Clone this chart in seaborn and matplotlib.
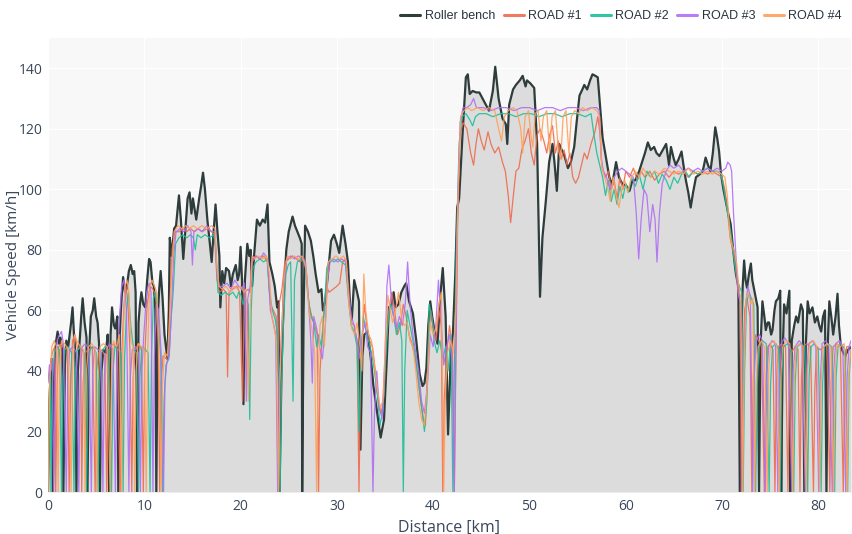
import pandas as pd
import matplotlib
matplotlib.use("Agg")
import matplotlib.pyplot as plt
import seaborn as sns

# speed traces: (distance km, speed km/h)
roller_bench = [
    (0.00, 0), (0.10, 22), (0.25, 38), (0.40, 44), (0.50, 0), (0.65, 40), (0.85, 50), (1.00, 53), (1.15, 49),
    (1.30, 51), (1.50, 46), (1.60, 0), (1.75, 42), (1.90, 50), (2.10, 48), (2.40, 56), (2.55, 61), (2.70, 52),
    (2.85, 46), (2.95, 0), (3.10, 40), (3.25, 48), (3.45, 58), (3.60, 64), (3.80, 56), (4.00, 51), (4.10, 0),
    (4.25, 45), (4.45, 58), (4.65, 60), (4.80, 64), (5.00, 58), (5.15, 56), (5.30, 49), (5.40, 0), (5.55, 40),
    (5.75, 47), (6.00, 46), (6.20, 52), (6.35, 0), (6.50, 52), (6.65, 61), (6.85, 55), (7.00, 54), (7.20, 58),
    (7.30, 0), (7.45, 52), (7.60, 62), (7.80, 71), (8.00, 66), (8.15, 67), (8.40, 73), (8.60, 75), (8.80, 72),
    (8.95, 73), (9.10, 66), (9.25, 0), (9.40, 56), (9.55, 62), (9.70, 66), (9.90, 62), (10.10, 61), (10.30, 70),
    (10.50, 77), (10.65, 76), (10.85, 69), (11.00, 68), (11.15, 60), (11.25, 0), (11.40, 58), (11.55, 67),
    (11.70, 73), (11.90, 64), (12.10, 52), (12.25, 48), (12.40, 44), (12.55, 60), (12.65, 84), (12.85, 78),
    (13.10, 87), (13.30, 88), (13.60, 98), (13.80, 90), (14.05, 77), (14.30, 88), (14.50, 97), (14.70, 99),
    (14.90, 92), (15.05, 97), (15.20, 94), (15.40, 90), (15.70, 97), (15.90, 101), (16.10, 105.5), (16.30, 100),
    (16.55, 90), (16.75, 84), (17.00, 76), (17.20, 86), (17.40, 95), (17.60, 86), (17.80, 78), (17.90, 61),
    (18.10, 73), (18.30, 69), (18.50, 74), (18.80, 73), (19.00, 68), (19.20, 72), (19.50, 75), (19.70, 70),
    (19.85, 72), (20.00, 81), (20.15, 70), (20.30, 29), (20.45, 70), (20.70, 82), (20.90, 78), (21.05, 80),
    (21.20, 68), (21.40, 78), (21.70, 90), (22.00, 88), (22.30, 90), (22.55, 89), (22.80, 95), (23.00, 76),
    (23.30, 72), (23.55, 68), (23.80, 61), (23.95, 63), (24.05, 0), (24.25, 40), (24.50, 66), (24.75, 80),
    (25.00, 86), (25.40, 91), (25.65, 88), (25.90, 86), (26.15, 84), (26.35, 82), (26.40, 0), (26.55, 60),
    (26.70, 88), (27.00, 86), (27.30, 83), (27.55, 78), (27.80, 72), (28.10, 66), (28.40, 67), (28.55, 60),
    (28.80, 63), (29.10, 73), (29.40, 83), (29.70, 85), (30.00, 82), (30.25, 79), (30.60, 88), (30.90, 82),
    (31.15, 76), (31.40, 60), (31.55, 57), (31.80, 70), (32.10, 66), (32.30, 63), (32.45, 14), (32.65, 45),
    (32.85, 52), (33.20, 53), (33.50, 45), (33.80, 35), (34.20, 26), (34.55, 18), (34.90, 24), (35.20, 45),
    (35.40, 61), (35.70, 62), (35.90, 66), (36.10, 61), (36.40, 62), (36.70, 66), (37.00, 68), (37.20, 69),
    (37.50, 63), (37.90, 59), (38.25, 50), (38.60, 39), (38.90, 35), (39.10, 36), (39.30, 41), (39.50, 55),
    (39.70, 63), (39.90, 58), (40.10, 54), (40.45, 49), (40.75, 65), (41.00, 74), (41.30, 58), (41.55, 19),
    (41.85, 47), (42.05, 52), (42.30, 72), (42.50, 94), (42.70, 97), (43.05, 118), (43.40, 137), (43.60, 138),
    (43.80, 131.5), (44.10, 132.5), (44.50, 132), (44.80, 132), (45.30, 129), (45.80, 126), (46.20, 132.5),
    (46.45, 140.5), (46.80, 130), (47.20, 123.5), (47.55, 121.5), (47.70, 115), (47.90, 128), (48.30, 133),
    (48.60, 134.5), (49.00, 136), (49.30, 137.5), (49.60, 134), (49.75, 136), (50.10, 135), (50.50, 133.5),
    (50.80, 115), (51.00, 82), (51.10, 64.5), (51.35, 84), (51.70, 96), (52.05, 109), (52.40, 115), (52.60, 109),
    (52.85, 99.5), (53.10, 115), (53.35, 113), (53.60, 111.5), (54.00, 107), (54.30, 109), (54.65, 114),
    (54.90, 122), (55.20, 131), (55.50, 133), (55.70, 134.5), (56.00, 133), (56.30, 136), (56.55, 138),
    (56.85, 137.5), (57.10, 137), (57.30, 129), (57.60, 117), (57.95, 110.5), (58.30, 104), (58.60, 101.5),
    (59.00, 109), (59.30, 104), (59.70, 101.5), (60.00, 101.5), (60.40, 99.5), (60.70, 103), (61.00, 103),
    (61.40, 106), (61.75, 109.5), (62.00, 112), (62.30, 115.5), (62.60, 113), (62.95, 114), (63.20, 112),
    (63.50, 111), (63.85, 113), (64.20, 115), (64.50, 108), (64.70, 114), (65.00, 110), (65.20, 108),
    (65.50, 110), (65.80, 112.5), (66.00, 108), (66.25, 103), (66.50, 99), (66.75, 94), (67.00, 99),
    (67.30, 104), (67.70, 105), (68.00, 106), (68.30, 110.5), (68.55, 108), (68.80, 106), (69.05, 112),
    (69.30, 120.5), (69.50, 117), (69.70, 112.5), (69.90, 105), (70.15, 100), (70.40, 96), (70.65, 92),
    (70.90, 88.5), (71.10, 82), (71.30, 76), (71.45, 72), (71.70, 68), (71.85, 0), (72.00, 50), (72.15, 68),
    (72.30, 76.5), (72.45, 70), (72.60, 67.5), (72.80, 72), (73.00, 75.5), (73.15, 70), (73.30, 67.5),
    (73.50, 64), (73.70, 61), (73.85, 0), (74.00, 48), (74.20, 63), (74.40, 58), (74.55, 53.5), (74.75, 56),
    (74.90, 56), (75.10, 52), (75.25, 53.5), (75.45, 60), (75.60, 63), (75.85, 64), (76.05, 66.5), (76.15, 0),
    (76.30, 45), (76.45, 62), (76.70, 59), (77.00, 66.5), (77.10, 0), (77.25, 50), (77.50, 55), (77.70, 58),
    (77.90, 56), (78.20, 62), (78.40, 60), (78.55, 0), (78.70, 48), (78.90, 63), (79.10, 59), (79.40, 61),
    (79.65, 56), (79.90, 58), (80.10, 55), (80.30, 53), (80.50, 58), (80.70, 60), (80.85, 0), (81.00, 50),
    (81.15, 63), (81.35, 58), (81.55, 52), (81.80, 58), (82.00, 65.5), (82.15, 55), (82.35, 48), (82.60, 46),
    (82.80, 45), (83.10, 47), (83.40, 48),
]

road_1 = [
    (0.00, 0), (0.10, 30), (0.25, 42), (0.45, 46), (0.70, 48), (0.80, 0), (0.95, 35), (1.10, 48), (1.40, 49),
    (1.70, 47), (2.00, 48), (2.20, 0), (2.35, 38), (2.55, 50), (2.80, 52), (3.10, 47), (3.40, 48), (3.50, 0),
    (3.65, 36), (3.85, 46), (4.20, 47), (4.60, 48), (4.90, 0), (5.05, 40), (5.25, 46), (5.60, 47), (5.90, 45),
    (6.10, 0), (6.25, 38), (6.45, 48), (6.80, 49), (7.20, 47), (7.50, 0), (7.65, 45), (7.90, 62), (8.10, 68),
    (8.30, 62), (8.50, 48), (8.70, 0), (8.85, 38), (9.05, 47), (9.40, 49), (9.70, 47), (9.90, 0), (10.05, 45),
    (10.30, 62), (10.60, 68), (10.90, 67), (11.20, 65), (11.45, 48), (11.60, 0), (11.75, 36), (11.95, 45),
    (12.30, 44), (12.50, 46), (12.70, 66), (12.90, 80), (13.20, 86), (13.60, 86), (14.00, 87), (14.40, 86),
    (14.80, 87), (15.20, 86), (15.60, 87), (16.00, 86), (16.50, 87), (17.00, 86), (17.30, 85), (17.55, 70),
    (17.80, 66), (18.20, 67), (18.50, 66), (18.65, 38), (18.80, 66), (19.20, 67), (19.60, 68), (19.90, 66),
    (20.20, 30), (20.40, 66), (20.80, 67), (21.00, 66), (21.20, 77), (21.60, 78), (22.00, 77), (22.40, 78),
    (22.80, 76), (23.10, 62), (23.40, 60), (23.70, 58), (23.90, 40), (24.00, 62), (24.30, 67), (24.60, 76),
    (25.00, 77), (25.40, 78), (25.80, 77), (26.20, 76), (26.60, 77), (26.85, 72), (27.10, 62), (27.40, 58),
    (27.70, 55), (27.95, 52), (28.10, 0), (28.25, 40), (28.50, 52), (28.70, 62), (28.90, 68), (29.20, 66),
    (29.60, 67), (30.00, 68), (30.30, 69), (30.60, 76), (30.90, 77), (31.20, 68), (31.50, 56), (31.80, 55),
    (32.10, 50), (32.30, 0), (32.45, 35), (32.60, 50), (32.85, 62), (33.10, 55), (33.40, 50), (33.70, 48),
    (34.00, 40), (34.30, 30), (34.60, 26), (34.90, 32), (35.10, 48), (35.40, 60), (35.70, 66), (36.00, 60),
    (36.30, 52), (36.60, 55), (36.90, 62), (37.20, 58), (37.50, 52), (37.80, 49), (38.10, 45), (38.40, 38),
    (38.70, 30), (39.00, 24), (39.20, 22), (39.50, 48), (39.75, 60), (40.00, 55), (40.30, 50), (40.60, 60),
    (40.85, 55), (41.00, 0), (41.15, 30), (41.40, 45), (41.70, 55), (42.00, 48), (42.20, 0), (42.35, 40),
    (42.55, 90), (42.80, 118), (43.10, 122), (43.50, 120), (43.90, 112), (44.20, 108), (44.45, 115),
    (44.70, 120), (45.00, 116), (45.30, 113), (45.70, 119), (46.00, 115), (46.40, 112), (46.80, 114),
    (47.20, 109), (47.50, 106), (47.80, 98), (48.05, 89), (48.30, 97), (48.60, 106), (48.90, 107),
    (49.20, 113), (49.55, 116), (49.90, 120), (50.20, 112), (50.50, 108), (50.80, 118), (51.10, 120),
    (51.50, 116), (51.80, 112), (52.10, 118), (52.40, 121), (52.70, 112), (53.00, 116), (53.30, 110),
    (53.60, 113), (53.90, 108), (54.20, 112), (54.50, 104), (54.80, 102), (55.10, 104), (55.40, 108),
    (55.70, 112), (56.00, 110), (56.40, 115), (56.80, 119), (57.10, 124), (57.35, 118), (57.55, 107),
    (57.90, 104), (58.20, 106), (58.50, 100), (58.80, 103), (59.10, 97), (59.40, 104), (59.70, 100),
    (60.00, 106), (60.40, 104), (60.80, 107), (61.20, 103), (61.60, 106), (62.00, 104), (62.50, 106),
    (63.00, 103), (63.50, 105), (64.00, 106), (64.50, 104), (65.00, 106), (65.50, 105), (66.00, 106),
    (66.50, 104), (67.00, 106), (67.50, 105), (68.00, 106), (68.50, 105), (69.00, 106), (69.50, 105),
    (70.00, 104), (70.30, 100), (70.60, 92), (70.85, 84), (71.10, 80), (71.35, 76), (71.60, 68), (71.90, 62),
    (72.00, 0), (72.15, 40), (72.35, 60), (72.60, 64), (72.90, 58), (73.10, 0), (73.25, 38), (73.50, 52),
    (73.80, 50), (74.10, 48), (74.40, 0), (74.55, 35), (74.75, 48), (75.00, 49), (75.30, 47), (75.50, 0),
    (75.65, 36), (75.85, 48), (76.20, 49), (76.60, 48), (76.85, 0), (77.00, 35), (77.20, 46), (77.60, 48),
    (77.90, 47), (78.10, 0), (78.25, 38), (78.45, 48), (78.80, 49), (79.20, 48), (79.50, 0), (79.65, 35),
    (79.85, 48), (80.20, 47), (80.60, 48), (80.90, 49), (81.20, 0), (81.35, 36), (81.55, 48), (81.90, 49),
    (82.30, 48), (82.60, 0), (82.75, 38), (82.95, 48), (83.40, 48),
]

road_2 = [
    (0.00, 0), (0.15, 34), (0.25, 40), (0.30, 0), (0.45, 36), (0.65, 46), (0.95, 48), (1.20, 47), (1.40, 0),
    (1.55, 38), (1.75, 47), (2.10, 48), (2.45, 46), (2.70, 0), (2.85, 40), (3.05, 47), (3.40, 48), (3.75, 46),
    (4.00, 0), (4.15, 38), (4.35, 47), (4.70, 48), (5.00, 46), (5.20, 0), (5.35, 36), (5.55, 46), (5.90, 48),
    (6.30, 47), (6.60, 0), (6.75, 40), (6.95, 48), (7.30, 47), (7.60, 46), (7.80, 0), (7.95, 44), (8.15, 60),
    (8.35, 66), (8.60, 55), (8.90, 47), (9.20, 46), (9.40, 0), (9.55, 38), (9.75, 48), (10.10, 47), (10.40, 46),
    (10.60, 0), (10.75, 45), (10.95, 64), (11.20, 66), (11.40, 58), (11.70, 45), (11.90, 0), (12.05, 30),
    (12.25, 42), (12.55, 44), (12.80, 58), (13.00, 66), (13.25, 82), (13.60, 84), (14.00, 85), (14.40, 84),
    (14.80, 85), (15.10, 84), (15.30, 80), (15.50, 85), (15.90, 84), (16.30, 85), (16.80, 84), (17.20, 85),
    (17.45, 80), (17.65, 66), (18.00, 65), (18.40, 66), (18.80, 65), (19.20, 66), (19.60, 64), (19.80, 66),
    (20.05, 65), (20.25, 62), (20.50, 64), (20.80, 62), (20.95, 24), (21.10, 60), (21.30, 74), (21.60, 76),
    (22.00, 77), (22.40, 76), (22.75, 77), (23.00, 66), (23.30, 60), (23.60, 57), (23.85, 52), (24.10, 0),
    (24.25, 35), (24.45, 55), (24.70, 72), (24.95, 75), (25.20, 76), (25.45, 30), (25.60, 70), (25.90, 76),
    (26.30, 77), (26.70, 76), (26.95, 66), (27.30, 58), (27.60, 56), (27.90, 48), (28.10, 52), (28.40, 48),
    (28.70, 60), (28.95, 74), (29.30, 77), (29.70, 76), (30.10, 77), (30.50, 76), (30.90, 75), (31.20, 64),
    (31.50, 55), (31.80, 53), (32.10, 48), (32.30, 20), (32.50, 44), (32.75, 58), (33.00, 54), (33.30, 50),
    (33.60, 46), (33.90, 40), (34.20, 32), (34.50, 22), (34.80, 28), (35.00, 40), (35.30, 56), (35.60, 62),
    (35.90, 58), (36.20, 52), (36.50, 56), (36.75, 50), (36.90, 0), (37.05, 40), (37.30, 60), (37.60, 55),
    (37.90, 50), (38.20, 44), (38.50, 36), (38.80, 28), (39.10, 20), (39.35, 30), (39.60, 62), (39.85, 58),
    (40.10, 50), (40.40, 46), (40.70, 50), (41.00, 44), (41.30, 48), (41.55, 40), (41.85, 52), (42.05, 0),
    (42.20, 40), (42.40, 80), (42.70, 115), (43.00, 124), (43.40, 125), (43.80, 123), (44.10, 121),
    (44.40, 124), (44.80, 125), (45.50, 125), (46.20, 124), (47.00, 125), (47.80, 125), (48.60, 124),
    (49.40, 125), (50.20, 125), (51.00, 124), (51.80, 125), (52.60, 125), (53.40, 124), (54.20, 125),
    (55.00, 125), (55.80, 124), (56.40, 125), (56.70, 118), (57.00, 112), (57.30, 108), (57.60, 104),
    (57.90, 98), (58.20, 103), (58.50, 96), (58.80, 100), (59.10, 95), (59.40, 101), (59.70, 97), (60.00, 102),
    (60.30, 99), (60.60, 104), (61.00, 101), (61.40, 105), (61.80, 100), (62.20, 106), (62.60, 104),
    (63.00, 106), (63.40, 102), (63.80, 105), (64.20, 103), (64.60, 100), (65.00, 104), (65.40, 102),
    (65.80, 105), (66.20, 106), (66.60, 104), (67.00, 106), (67.50, 105), (68.00, 106), (68.50, 107),
    (69.00, 106), (69.50, 106), (69.90, 105), (70.20, 100), (70.45, 95), (70.70, 90), (71.00, 84), (71.30, 76),
    (71.60, 70), (71.80, 68), (72.05, 66), (72.20, 0), (72.35, 40), (72.55, 62), (72.80, 66), (73.05, 64),
    (73.30, 62), (73.50, 0), (73.65, 35), (73.85, 48), (74.20, 50), (74.60, 49), (74.90, 0), (75.05, 36),
    (75.25, 48), (75.60, 49), (75.90, 47), (76.05, 0), (76.20, 38), (76.40, 48), (76.80, 49), (77.20, 47),
    (77.45, 0), (77.60, 36), (77.80, 48), (78.20, 49), (78.60, 48), (78.90, 0), (79.05, 38), (79.25, 48),
    (79.60, 49), (80.00, 47), (80.30, 0), (80.45, 36), (80.65, 48), (81.00, 49), (81.40, 48), (81.70, 0),
    (81.85, 38), (82.05, 48), (82.40, 49), (82.80, 47), (83.05, 0), (83.20, 38), (83.40, 47),
]

road_3 = [
    (0.00, 36), (0.15, 42), (0.30, 40), (0.45, 44), (0.60, 0), (0.75, 38), (0.95, 50), (1.20, 52), (1.40, 53),
    (1.60, 49), (1.90, 0), (2.05, 36), (2.25, 47), (2.60, 48), (2.95, 46), (3.20, 0), (3.35, 38), (3.55, 48),
    (3.90, 49), (4.25, 47), (4.50, 0), (4.65, 40), (4.85, 48), (5.20, 47), (5.50, 46), (5.70, 0), (5.85, 38),
    (6.05, 47), (6.40, 49), (6.75, 47), (7.00, 0), (7.15, 40), (7.40, 56), (7.65, 68), (7.90, 70), (8.15, 60),
    (8.40, 0), (8.55, 38), (8.75, 47), (9.10, 48), (9.40, 46), (9.60, 0), (9.75, 40), (9.95, 52), (10.25, 66),
    (10.50, 69), (10.70, 66), (10.90, 0), (11.05, 45), (11.25, 62), (11.50, 60), (11.75, 46), (12.00, 0),
    (12.15, 36), (12.35, 43), (12.60, 45), (12.85, 62), (13.05, 78), (13.30, 86), (13.70, 87), (14.10, 86),
    (14.50, 88), (14.85, 86), (15.00, 75), (15.15, 86), (15.60, 87), (16.00, 86), (16.50, 88), (17.00, 86),
    (17.35, 86), (17.55, 72), (17.80, 68), (18.20, 68), (18.60, 69), (19.00, 67), (19.40, 70), (19.80, 68),
    (20.10, 67), (20.40, 69), (20.60, 30), (20.75, 64), (21.00, 68), (21.20, 76), (21.60, 78), (22.00, 77),
    (22.40, 79), (22.80, 77), (23.10, 60), (23.40, 56), (23.65, 52), (23.85, 0), (24.00, 35), (24.20, 50),
    (24.50, 68), (24.80, 77), (25.20, 78), (25.60, 77), (26.00, 78), (26.40, 77), (26.75, 76), (27.00, 66),
    (27.30, 50), (27.45, 36), (27.60, 58), (27.90, 54), (28.20, 48), (28.50, 44), (28.80, 55), (29.00, 70),
    (29.30, 76), (29.70, 77), (30.10, 76), (30.50, 77), (30.90, 76), (31.20, 66), (31.50, 58), (31.80, 55),
    (32.10, 50), (32.40, 44), (32.65, 52), (32.90, 56), (33.20, 48), (33.50, 46), (33.75, 0), (33.90, 25),
    (34.15, 40), (34.40, 28), (34.70, 24), (35.00, 45), (35.20, 68), (35.40, 75), (35.60, 66), (35.90, 58),
    (36.20, 54), (36.50, 58), (36.80, 55), (37.10, 62), (37.35, 76), (37.60, 62), (37.90, 52), (38.20, 46),
    (38.50, 40), (38.80, 30), (39.10, 26), (39.40, 35), (39.70, 52), (40.00, 48), (40.30, 56), (40.55, 70),
    (40.80, 58), (41.10, 42), (41.40, 48), (41.70, 52), (42.00, 42), (42.20, 0), (42.35, 45), (42.55, 95),
    (42.80, 122), (43.10, 127), (43.50, 127), (43.90, 128), (44.20, 130), (44.50, 127), (45.20, 127),
    (46.00, 126), (46.80, 127), (47.60, 127), (48.40, 126), (49.20, 127), (50.00, 127), (50.80, 126),
    (51.60, 127), (52.40, 127), (53.20, 126), (54.00, 127), (54.80, 127), (55.60, 126), (56.40, 127),
    (57.00, 127), (57.25, 126), (57.45, 110), (57.70, 106), (58.00, 104), (58.40, 100), (58.80, 104),
    (59.20, 106), (59.60, 107), (60.00, 106), (60.40, 105), (60.80, 104), (61.10, 92), (61.35, 77),
    (61.60, 90), (61.90, 100), (62.20, 98), (62.50, 86), (62.80, 95), (63.05, 90), (63.25, 76), (63.50, 92),
    (63.80, 102), (64.20, 106), (64.60, 108), (65.00, 107), (65.50, 108), (66.00, 106), (66.50, 107),
    (67.00, 106), (67.50, 107), (68.00, 106), (68.50, 107), (69.00, 106), (69.50, 107), (70.00, 106),
    (70.40, 107), (70.60, 109), (70.85, 108), (71.00, 106), (71.20, 92), (71.45, 78), (71.70, 66), (71.95, 62),
    (72.10, 0), (72.25, 42), (72.45, 62), (72.70, 68), (72.95, 64), (73.20, 0), (73.35, 38), (73.55, 50),
    (73.90, 52), (74.20, 50), (74.50, 0), (74.65, 38), (74.85, 48), (75.20, 50), (75.55, 49), (75.80, 0),
    (75.95, 36), (76.15, 49), (76.50, 51), (76.90, 49), (77.25, 0), (77.40, 40), (77.60, 48), (78.00, 50),
    (78.30, 49), (78.65, 0), (78.80, 38), (79.00, 49), (79.40, 50), (79.75, 48), (80.05, 0), (80.20, 36),
    (80.40, 49), (80.80, 50), (81.10, 48), (81.45, 0), (81.60, 40), (81.80, 49), (82.20, 50), (82.55, 48),
    (82.85, 0), (83.00, 38), (83.20, 48), (83.40, 50),
]

road_4 = [
    (0.00, 0), (0.10, 20), (0.20, 38), (0.40, 48), (0.65, 50), (0.90, 48), (1.05, 0), (1.20, 40), (1.40, 50),
    (1.75, 49), (2.10, 47), (2.40, 0), (2.55, 40), (2.75, 52), (3.00, 50), (3.35, 48), (3.70, 47), (3.85, 0),
    (4.00, 40), (4.20, 48), (4.55, 49), (4.90, 47), (5.05, 0), (5.20, 36), (5.40, 48), (5.75, 49), (6.15, 48),
    (6.45, 0), (6.60, 40), (6.80, 50), (7.15, 48), (7.40, 52), (7.65, 0), (7.80, 50), (8.00, 68), (8.20, 70),
    (8.40, 66), (8.60, 50), (8.85, 48), (9.00, 0), (9.15, 40), (9.35, 49), (9.70, 48), (10.00, 47), (10.20, 0),
    (10.35, 46), (10.55, 68), (10.80, 70), (11.05, 68), (11.30, 66), (11.50, 50), (11.75, 0), (11.90, 36),
    (12.10, 46), (12.40, 45), (12.60, 55), (12.80, 70), (13.10, 86), (13.50, 88), (13.90, 87), (14.30, 88),
    (14.70, 87), (15.10, 88), (15.50, 87), (16.00, 88), (16.50, 87), (17.00, 88), (17.35, 87), (17.50, 76),
    (17.75, 68), (18.10, 67), (18.50, 68), (18.90, 66), (19.30, 68), (19.70, 67), (20.00, 68), (20.35, 66),
    (20.55, 67), (20.80, 30), (21.00, 60), (21.20, 78), (21.50, 77), (21.90, 78), (22.30, 77), (22.70, 78),
    (23.00, 72), (23.25, 58), (23.50, 54), (23.70, 50), (23.95, 0), (24.10, 38), (24.30, 55), (24.55, 72),
    (24.85, 78), (25.20, 77), (25.60, 78), (26.00, 77), (26.40, 78), (26.80, 74), (27.10, 60), (27.40, 54),
    (27.70, 46), (27.90, 0), (28.05, 38), (28.25, 55), (28.50, 58), (28.70, 48), (28.90, 60), (29.10, 76),
    (29.50, 77), (29.90, 78), (30.30, 77), (30.70, 78), (31.00, 76), (31.25, 62), (31.55, 54), (31.85, 52),
    (32.10, 56), (32.40, 48), (32.60, 40), (32.80, 72), (33.00, 60), (33.30, 52), (33.60, 50), (33.90, 42),
    (34.20, 34), (34.50, 28), (34.80, 30), (35.05, 50), (35.30, 65), (35.55, 60), (35.80, 56), (36.10, 60),
    (36.40, 66), (36.70, 58), (37.00, 55), (37.30, 56), (37.60, 50), (37.90, 48), (38.20, 40), (38.50, 30),
    (38.80, 24), (39.10, 22), (39.40, 36), (39.70, 56), (40.00, 52), (40.30, 54), (40.60, 62), (40.85, 66),
    (41.10, 0), (41.25, 30), (41.50, 46), (41.80, 50), (42.10, 46), (42.35, 60), (42.60, 100), (42.85, 124),
    (43.20, 126), (43.60, 127), (44.00, 126), (44.60, 127), (45.20, 126), (45.80, 127), (46.40, 126),
    (46.80, 120), (47.10, 116), (47.40, 124), (47.80, 126), (48.30, 127), (48.70, 126), (49.10, 120),
    (49.30, 112), (49.55, 124), (49.90, 126), (50.15, 118), (50.35, 114), (50.60, 125), (50.90, 126),
    (51.20, 116), (51.45, 124), (51.80, 126), (52.10, 112), (52.35, 124), (52.70, 126), (53.00, 113),
    (53.25, 110), (53.50, 124), (53.80, 126), (54.10, 112), (54.35, 124), (54.70, 126), (55.10, 125),
    (55.50, 127), (56.00, 126), (56.50, 127), (57.00, 126), (57.30, 124), (57.50, 108), (57.80, 104),
    (58.10, 101), (58.40, 96), (58.70, 104), (59.00, 98), (59.30, 94), (59.60, 100), (59.90, 103), (60.20, 99),
    (60.60, 104), (61.00, 106), (61.40, 104), (61.80, 107), (62.20, 105), (62.60, 104), (63.00, 106),
    (63.50, 105), (64.00, 107), (64.50, 106), (65.00, 105), (65.50, 106), (66.00, 105), (66.50, 107),
    (67.00, 105), (67.50, 106), (68.00, 105), (68.50, 106), (69.00, 105), (69.50, 106), (70.00, 105),
    (70.30, 104), (70.55, 98), (70.80, 86), (71.00, 82), (71.25, 80), (71.50, 76), (71.75, 68), (71.95, 64),
    (72.15, 0), (72.30, 42), (72.50, 64), (72.75, 66), (73.00, 62), (73.20, 64), (73.40, 0), (73.55, 36),
    (73.75, 48), (74.10, 50), (74.40, 48), (74.70, 0), (74.85, 40), (75.05, 49), (75.40, 50), (75.70, 48),
    (75.95, 0), (76.10, 38), (76.30, 48), (76.70, 50), (77.05, 49), (77.35, 0), (77.50, 36), (77.70, 48),
    (78.05, 49), (78.40, 48), (78.75, 0), (78.90, 40), (79.10, 49), (79.50, 50), (79.85, 48), (80.15, 0),
    (80.30, 36), (80.50, 48), (80.90, 49), (81.30, 48), (81.60, 0), (81.75, 40), (81.95, 49), (82.30, 48),
    (82.70, 49), (83.00, 0), (83.15, 38), (83.40, 47),
]

series_names = ["Roller bench", "ROAD #1", "ROAD #2", "ROAD #3", "ROAD #4"]
series_data = [roller_bench, road_1, road_2, road_3, road_4]
colors = ["#2e3c3c", "#ef6a4c", "#1cbf98", "#b06ef5", "#ffa05c"]
widths = [1.6, 0.9, 0.9, 0.9, 0.9]

rows = []
for name, pts in zip(series_names, series_data):
    for i, (km, v) in enumerate(pts):
        rows.append({"series": name, "idx": i, "distance": km, "speed": v})
df = pd.DataFrame(rows)

sns.set_style("whitegrid", {"axes.facecolor": "#f8f8f8", "grid.color": "white",
                            "axes.edgecolor": "#f8f8f8"})
plt.rcParams["font.family"] = ["Open Sans", "DejaVu Sans"]
text_color = "#3a475a"

fig = plt.figure(figsize=(8.52, 5.34), dpi=100)
ax = fig.add_axes([48 / 852, 42 / 534, 803 / 852, 454 / 534])

bench = df[df["series"] == "Roller bench"]
ax.fill_between(bench["distance"], bench["speed"], 0, color="#dcdcdc", lw=0, zorder=1)

for name, col, lw in zip(series_names, colors, widths):
    sub = df[df["series"] == name]
    sns.lineplot(data=sub, x="distance", y="speed", estimator=None, sort=False,
                 color=col, linewidth=lw, alpha=1.0 if name == "Roller bench" else 0.9,
                 label=name, ax=ax, zorder=3)

ax.set_xlim(0, 83.4)
ax.set_ylim(0, 150)
ax.set_xticks(range(0, 81, 10))
ax.set_yticks(range(0, 141, 20))
ax.tick_params(axis="both", colors=text_color, labelsize=10, length=0)
ax.tick_params(axis="y", pad=4)
ax.tick_params(axis="x", pad=5)
ax.grid(True, color="white", linewidth=0.8)
for s in ax.spines.values():
    s.set_visible(False)
ax.set_xlabel("Distance [km]", fontsize=11.5, color=text_color, labelpad=4)
ax.set_ylabel("Vehicle Speed [km/h]", fontsize=11, color=text_color)
ax.yaxis.set_label_coords(-0.0335, 0.5)

handles, labels = ax.get_legend_handles_labels()
ax.get_legend().remove()
leg = fig.legend(handles, labels, loc="upper right", bbox_to_anchor=(1.0, 1.0), ncol=5,
                 frameon=False, handlelength=1.6, handletextpad=0.35,
                 columnspacing=0.7, borderaxespad=0.4,
                 prop={"family": ["Liberation Sans"], "size": 9})
for h in leg.get_lines():
    h.set_linewidth(2.2)
for t in leg.get_texts():
    t.set_color("#2a3440")

fig.savefig("out.png", dpi=100)
